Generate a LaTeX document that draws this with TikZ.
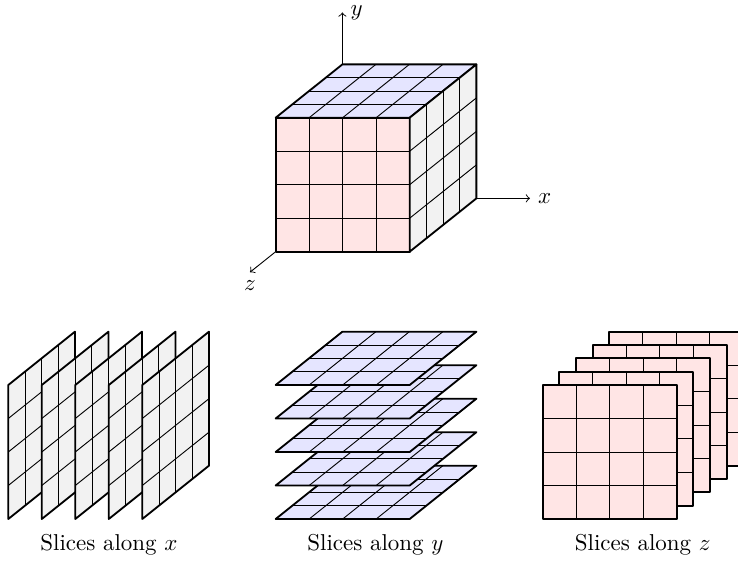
\documentclass[tikz,border=0pt]{standalone}
\tikzset{
  gridln/.style={line width=0.4pt, draw=black},
  edgeln/.style={line width=0.8pt, draw=black, line join=round},
  iso/.style={x={(14.589pt,0pt)}, y={(0pt,14.589pt)}, z={(7.262pt,5.805pt)}},
  axisarrow/.style={->, line width=0.4pt},
  caption/.style={anchor=base, inner sep=0pt},
}
\newcommand{\mkXpanel}[1]{%
  \fill[gray!10] (#1,0,0) -- (#1,4,0) -- (#1,4,4) -- (#1,0,4) -- cycle;
  \foreach \k in {1,2,3} {\draw[gridln] (#1,\k,0) -- (#1,\k,4); \draw[gridln] (#1,0,\k) -- (#1,4,\k);}
  \draw[edgeln] (#1,0,0) -- (#1,4,0) -- (#1,4,4) -- (#1,0,4) -- cycle;}
\newcommand{\mkYpanel}[1]{%
  \fill[blue!10] (0,#1,0) -- (4,#1,0) -- (4,#1,4) -- (0,#1,4) -- cycle;
  \foreach \k in {1,2,3} {\draw[gridln] (\k,#1,0) -- (\k,#1,4); \draw[gridln] (0,#1,\k) -- (4,#1,\k);}
  \draw[edgeln] (0,#1,0) -- (4,#1,0) -- (4,#1,4) -- (0,#1,4) -- cycle;}
\newcommand{\mkZpanel}[1]{%
  \fill[red!10] (0,0,#1) -- (4,0,#1) -- (4,4,#1) -- (0,4,#1) -- cycle;
  \foreach \k in {1,2,3} {\draw[gridln] (\k,0,#1) -- (\k,4,#1); \draw[gridln] (0,\k,#1) -- (4,\k,#1);}
  \draw[edgeln] (0,0,#1) -- (4,0,#1) -- (4,4,#1) -- (0,4,#1) -- cycle;}
\begin{document}
\begin{tikzpicture}[x=0.4355pt, y=0.4355pt]
\useasboundingbox (0,0) rectangle (738,561);
\clip (0,0) rectangle (738,561);
% cube
\begin{scope}[shift={(275.7,309.3)}, iso]
  \mkZpanel{0}
  \mkYpanel{4}
  \mkXpanel{4}
  \coordinate (ytail) at (0,4,4);
  \coordinate (yhead) at (0,5.55,4);
  \coordinate (xtail) at (4,0,4);
  \coordinate (xhead) at (5.6,0,4);
  \coordinate (ztail) at (0,0,0);
  \coordinate (zhead) at (0,0,-1.54);
  \draw[axisarrow] (ytail) -- (yhead);
  \draw[axisarrow] (xtail) -- (xhead);
  \draw[axisarrow] (ztail) -- (zhead);
  \node[right] (ylab) at (yhead) {$y$};
  \node[right] (xlab) at (xhead) {$x$};
  \node[below] (zlab) at (zhead) {$z$};
\end{scope}
% slices along x
\begin{scope}[shift={(8.3,42)}, iso]
  \foreach \i in {0,...,4} {\mkXpanel{\i}}
\end{scope}
% slices along y
\begin{scope}[shift={(275.7,42)}, iso]
  \foreach \i in {0,...,4} {\mkYpanel{\i}}
\end{scope}
% slices along z
\begin{scope}[shift={(542.7,42)}, iso]
  \foreach \i in {4,3,...,0} {\mkZpanel{\i}}
\end{scope}
\node[caption] (capx) at (108.9,10.3) {Slices along $x$};
\node[caption] (capy) at (375.4,10.3) {Slices along $y$};
\node[caption] (capz) at (642.7,10.3) {Slices along $z$};
\end{tikzpicture}
\end{document}
